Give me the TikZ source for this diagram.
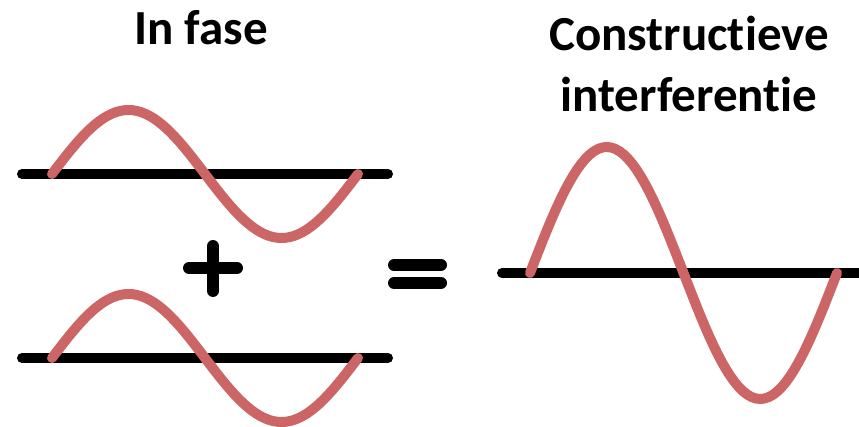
\documentclass[tikz,border=0pt]{standalone}
\usepackage{fontspec}
\setmainfont{Carlito}[Ligatures=NoCommon]
\definecolor{wred}{HTML}{CC6666}
\tikzset{
 axisline/.style={line width=10pt, line cap=round},
 wave/.style={wred, line width=10pt, line cap=round},
 sign/.style={line width=12pt, line cap=round},
 title/.style={font=\bfseries\fontsize{49}{58}\selectfont, anchor=base, inner sep=0pt}
}

\begin{document}
\begin{tikzpicture}[x=1pt,y=-1pt]
 \useasboundingbox (0,0) rectangle (859,427);
 % two waves in phase
 \foreach \y in {174,358} {
  \draw[axisline] (22,\y) -- (388,\y);
  \draw[wave] plot[domain=0:360, samples=73] ({52+0.85*\x},{\y-64*sin(\x)});
 }
 % the sum
 \draw[axisline] (502,273) -- (870,273);
 \draw[wave] plot[domain=0:360, samples=73] ({530+0.8528*\x},{273-126*sin(\x)});
 % plus and equals
 \draw[sign] (189,268) -- (237,268);
 \draw[sign] (213,246) -- (213,291);
 \draw[sign] (394,265) -- (441,265);
 \draw[sign] (394,283) -- (441,283);
 \node[title] (infase) at (201,45) {In fase};
 \node[title] (constr) at (689,51) {Constructieve};
 \node[title] (interf) at (689,112) {interferentie};
\end{tikzpicture}
\end{document}
